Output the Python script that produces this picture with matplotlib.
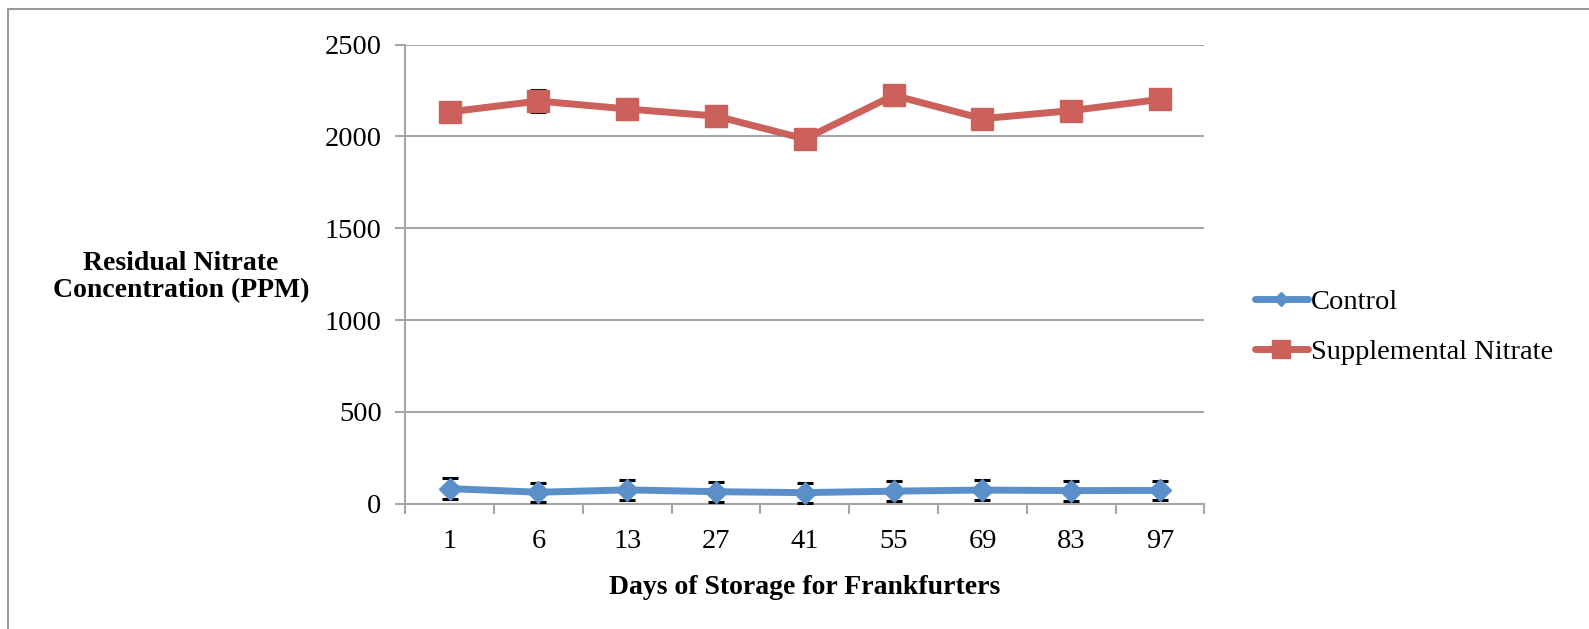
import numpy as np
import matplotlib
matplotlib.use("Agg")
import matplotlib.pyplot as plt
from matplotlib.patches import Rectangle

plt.rcParams['font.family'] = ['Liberation Serif', 'DejaVu Serif']

# data
days = ["1", "6", "13", "27", "41", "55", "69", "83", "97"]
control = [83, 63, 76, 66, 61, 69, 75, 72, 73]
control_err = [55, 53, 54, 54, 54, 54, 55, 54, 53]
supplemental = [2134, 2193, 2150, 2111, 1987, 2224, 2097, 2141, 2202]
supplemental_err = [40, 58, 56, 56, 45, 50, 45, 45, 45]

blue = "#5B8FC9"
red = "#CB615A"
grid_gray = "#A6A6A6"

fig = plt.figure(figsize=(15.89, 6.29), dpi=100)
ax = fig.add_axes([0.255, 0.199, 0.503, 0.730])

x = np.arange(len(days))

for vals, errs, col, mk, ms, lms, lab in [
    (control, control_err, blue, "D", 10.7, 7.2, "Control"),
    (supplemental, supplemental_err, red, "s", 15.5, 13, "Supplemental Nitrate"),
]:
    ax.plot(x, vals, color=col, lw=5, zorder=3, solid_capstyle="round")
    ax.errorbar(x, vals, yerr=errs, fmt="none", ecolor="black", elinewidth=1.5,
                capsize=5.8, capthick=2.2, zorder=4)
    ax.plot(x, vals, color=col, marker=mk, markersize=ms, linestyle="none",
            zorder=5)
    ax.plot([], [], color=col, lw=5, marker=mk, markersize=lms, label=lab,
            solid_capstyle="round")

ax.set_xlim(-0.5, len(days) - 0.5)
ax.set_ylim(0, 2500)
ax.set_yticks(np.arange(0, 2501, 500))
ax.set_xticks(x)
ax.set_xticklabels(days)
ax.set_xticks(np.arange(-0.5, len(days), 1), minor=True)

ax.grid(axis="y", color=grid_gray, lw=1.5, zorder=0)
ax.set_axisbelow(True)
for s in ["top", "right"]:
    ax.spines[s].set_visible(False)
for s in ["left", "bottom"]:
    ax.spines[s].set_color(grid_gray)
    ax.spines[s].set_linewidth(1.5)

ax.tick_params(axis="x", which="major", length=0, labelsize=20.5, pad=18)
ax.tick_params(axis="x", which="minor", length=7, width=1.5, color=grid_gray)
ax.tick_params(axis="y", length=7, width=1.5, color=grid_gray, labelsize=20.5, pad=10)

ax.set_xlabel("Days of Storage for Frankfurters", fontsize=20, fontweight="bold",
              labelpad=15)
fig.text(0.114, 0.559, "Residual Nitrate\nConcentration (PPM)", fontsize=20,
         fontweight="bold", ha="center", va="center", linespacing=1.1)

ax.legend(loc="center left", bbox_to_anchor=(1.031, 0.385), frameon=False,
          fontsize=20.5, handlelength=1.87, handletextpad=0.1, labelspacing=0.85)

# outer chart border (cropped on right and bottom)
fig.patches.append(Rectangle((8 / 1589, -0.1), 1.2, 1 - 9 / 629 + 0.1,
                             transform=fig.transFigure, fill=False,
                             edgecolor="#999999", lw=1.5))

fig.savefig("out.png", dpi=100)
